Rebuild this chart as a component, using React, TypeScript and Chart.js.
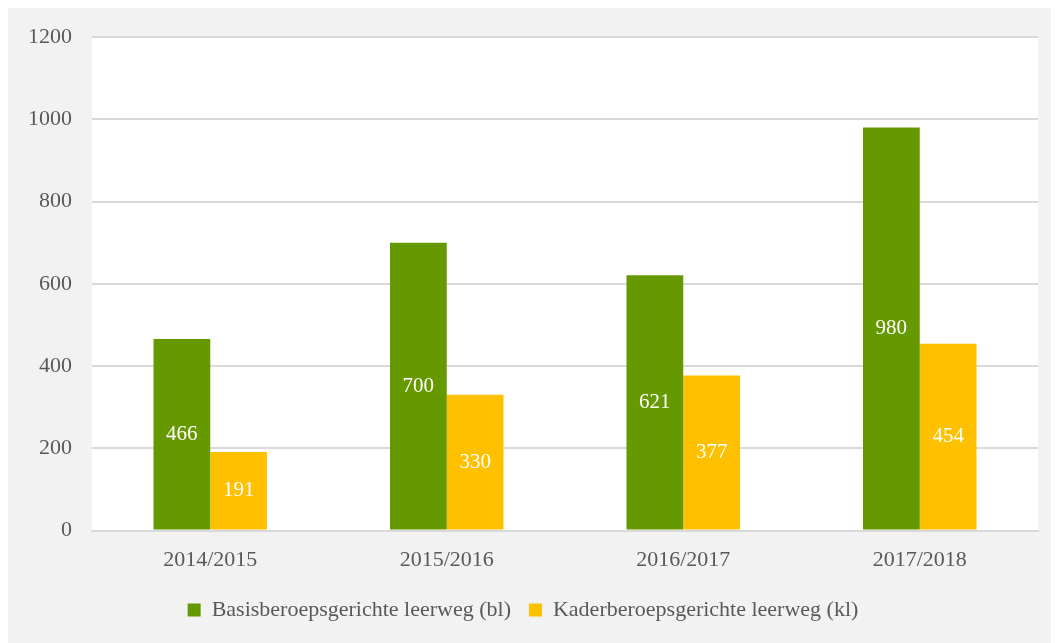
import React, { useEffect, useRef } from "react";
import { Chart, registerables } from "chart.js";

Chart.register(...registerables);

const categories = ["2014/2015", "2015/2016", "2016/2017", "2017/2018"];
const basisValues = [466, 700, 621, 980];
const kaderValues = [191, 330, 377, 454];
const seriesNames = ["Basisberoepsgerichte leerweg (bl)", "Kaderberoepsgerichte leerweg (kl)"];
const yTicks = [0, 200, 400, 600, 800, 1000, 1200];

const FONT = "'Liberation Serif', 'DejaVu Serif', serif";

const bgPlugin = {
  id: "bgPlugin",
  beforeDraw(chart: any) {
    const { ctx, chartArea } = chart;
    ctx.save();
    ctx.fillStyle = "#f2f2f2";
    ctx.fillRect(0, 0, chart.width, chart.height);
    ctx.fillStyle = "#ffffff";
    ctx.fillRect(chartArea.left, chartArea.top, chartArea.right - chartArea.left, chartArea.bottom - chartArea.top);
    ctx.restore();
  },
};

const labelPlugin = {
  id: "labelPlugin",
  afterDatasetsDraw(chart: any) {
    const { ctx } = chart;
    ctx.save();
    ctx.font = `21px ${FONT}`;
    ctx.fillStyle = "#ffffff";
    ctx.textAlign = "center";
    ctx.textBaseline = "middle";
    chart.data.datasets.forEach((ds: any, i: number) => {
      const meta = chart.getDatasetMeta(i);
      meta.data.forEach((bar: any, j: number) => {
        const y = (bar.y + bar.base) / 2;
        ctx.fillText(String(ds.data[j]), bar.x, y);
      });
    });
    ctx.restore();
  },
};

export default function App() {
  const ref = useRef<HTMLCanvasElement>(null);
  useEffect(() => {
    if (!ref.current) return;
    const chart = new Chart(ref.current, {
      type: "bar",
      data: {
        labels: categories,
        datasets: [
          { label: seriesNames[0], data: basisValues, backgroundColor: "#669900", borderWidth: 0, categoryPercentage: 0.48, barPercentage: 1 },
          { label: seriesNames[1], data: kaderValues, backgroundColor: "#ffc000", borderWidth: 0, categoryPercentage: 0.48, barPercentage: 1 },
        ],
      },
      options: {
        animation: false,
        responsive: false,
        maintainAspectRatio: false,
        layout: { padding: { left: 0, right: 21, top: 29, bottom: 12 } },
        plugins: {
          legend: {
            position: "bottom",
            labels: {
              boxWidth: 13,
              boxHeight: 13,
              color: "#595959",
              font: { family: FONT, size: 22 },
              padding: 18,
            },
          },
          tooltip: { enabled: false },
        },
        scales: {
          x: {
            grid: { display: false },
            border: { display: true, color: "#d9d9d9", width: 2 },
            ticks: { color: "#595959", font: { family: FONT, size: 22 }, padding: 8 },
          },
          y: {
            min: 0,
            max: 1200,
            afterBuildTicks: (axis: any) => {
              axis.ticks = yTicks.map((v) => ({ value: v }));
            },
            afterFit: (axis: any) => {
              axis.paddingTop = 0;
              axis.paddingBottom = 0;
            },
            grid: { color: "#d9d9d9", lineWidth: 2, drawTicks: false },
            border: { display: false },
            ticks: {
              color: "#595959",
              font: { family: FONT, size: 22 },
              padding: 20,
              callback: (v: any) => String(v),
            },
          },
        },
      },
      plugins: [bgPlugin, labelPlugin],
    });
    return () => chart.destroy();
  }, []);
  return <canvas ref={ref} width={1051} height={635} style={{ display: "block" }} />;
}
